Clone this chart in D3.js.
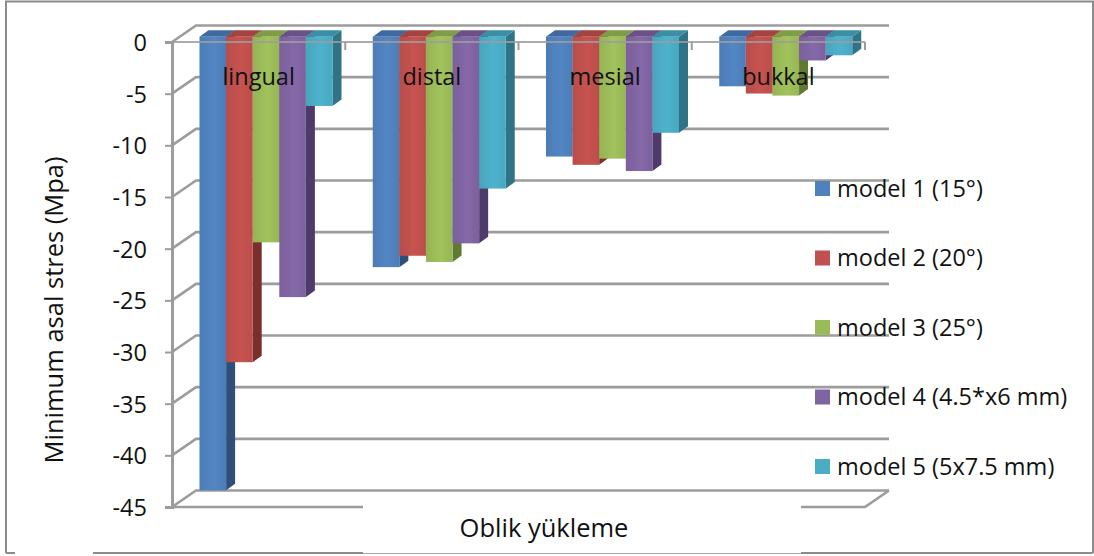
<!DOCTYPE html>
<html>
<head>
<meta charset="utf-8">
<script src="https://d3js.org/d3.v7.min.js"></script>
<style>
  html, body { margin: 0; padding: 0; background: #fff; }
  svg { display: block; }
  text { font-family: "Open Sans", "Noto Sans", sans-serif; fill: #111; }
</style>
</head>
<body>
<svg id="chart" width="1094" height="556"></svg>
<script>
// Minimum principal stress under oblique loading, by region and implant model
const categories = ["lingual", "distal", "mesial", "bukkal"];
const seriesNames = ["model 1 (15°)", "model 2 (20°)", "model 3 (25°)", "model 4 (4.5*x6 mm)", "model 5 (5x7.5 mm)"];
const model1 = [-43.9, -22.3, -11.6, -4.8];
const model2 = [-31.5, -21.2, -12.4, -5.5];
const model3 = [-19.9, -21.8, -11.8, -5.7];
const model4 = [-25.2, -20.0, -13.0, -2.3];
const model5 = [-6.7, -14.7, -9.3, -1.8];
const seriesValues = [model1, model2, model3, model4, model5];
const yTicks = [0, -5, -10, -15, -20, -25, -30, -35, -40, -45];

const frontColors = ["#4f81bd", "#c0504d", "#9bbb59", "#8064a2", "#4bacc6"];
const sideColors  = ["#2f4f7a", "#7a2f2d", "#607a33", "#4f3b6b", "#2f7486"];
const topColors   = ["#3f6aa0", "#a34440", "#7f9c48", "#69518a", "#3a8ea6"];
const gridColor = "#9c9c9c";

const svg = d3.select("#chart");

// Outer frame, with the breaks along its lower edge
const frame = svg.append("g").attr("fill", "none").attr("stroke", "#8c8c8c").attr("stroke-width", 2);
frame.append("path").attr("d", "M6,553V1.5H1093V553");
[[6, 15], [93, 363], [801, 1093]].forEach(([a, b]) =>
  frame.append("line").attr("x1", a).attr("x2", b).attr("y1", 553).attr("y2", 553));
frame.append("line").attr("x1", 363).attr("x2", 801).attr("y1", 553.5).attr("y2", 553.5)
  .attr("stroke-width", 1).attr("stroke", "#a8a8a8");

// Scales on the front plane of the 3-D box
const y = d3.scaleLinear().domain([0, -45]).range([42, 507]);
const x = d3.scaleBand().domain(categories).range([172, 865]);
const inner = d3.scaleBand().domain(d3.range(seriesNames.length)).range([0, 133]);

const wallDx = 24, wallDy = -16.5;          // depth of the box
const barDx = 7.5, barDy = -5.3;            // where the bars stand inside the box
const depthX = 9, depthY = -6.5;            // depth of each bar
const groupInset = 20;
const wallRight = 865 + wallDx;

// Floor, wall gridlines and their diagonal returns
const grid = svg.append("g").attr("fill", "none").attr("stroke", gridColor).attr("stroke-width", 2.6);
yTicks.forEach(t => {
  grid.append("path").attr("d",
    `M172,${y(t)}L${172 + wallDx},${y(t) + wallDy}H${wallRight}`);
});
grid.append("line").attr("x1", 172).attr("x2", 363).attr("y1", y(-45)).attr("y2", y(-45));
grid.append("path").attr("d", `M801,${y(-45)}H${865}L${wallRight},${y(-45) + wallDy}`);

// Horizontal shading across each bar face
const defs = svg.append("defs");
frontColors.forEach((c, i) => {
  const g = defs.append("linearGradient").attr("id", "face" + i);
  g.append("stop").attr("offset", "0%").attr("stop-color", d3.color(c).darker(0.12));
  g.append("stop").attr("offset", "55%").attr("stop-color", d3.color(c).brighter(0.1));
  g.append("stop").attr("offset", "100%").attr("stop-color", d3.color(c).darker(0.08));
});

// Bars: one box per value, painted left to right so each hides its neighbour's side
const bars = svg.append("g");
categories.forEach((cat, ci) => {
  seriesValues.forEach((vals, si) => {
    const x0 = x(cat) + barDx + groupInset + inner(si);
    const w = inner.bandwidth();
    const top = y(0) + barDy;
    const h = y(vals[ci]) - y(0);
    const b = bars.append("g");
    b.append("path").attr("fill", sideColors[si])
      .attr("d", `M${x0 + w},${top}l${depthX},${depthY}v${h}l${-depthX},${-depthY}Z`);
    b.append("path").attr("fill", topColors[si])
      .attr("d", `M${x0},${top}l${depthX},${depthY}h${w}l${-depthX},${-depthY}Z`);
    b.append("rect").attr("x", x0).attr("y", top).attr("width", w).attr("height", h)
      .attr("fill", `url(#face${si})`);
  });
});

// Front edge of the zero plane, showing across the bars
svg.append("line").attr("x1", 172).attr("x2", 865).attr("y1", y(0)).attr("y2", y(0))
  .attr("stroke", gridColor).attr("stroke-width", 2).attr("stroke-opacity", 0.85);

// Category ticks hang from the zero plane at band boundaries
svg.append("g").selectAll("line").data(categories).join("line")
  .attr("x1", d => x(d) + x.bandwidth()).attr("x2", d => x(d) + x.bandwidth())
  .attr("y1", y(0)).attr("y2", y(0) + 8)
  .attr("stroke", gridColor).attr("stroke-width", 2);

// Value axis, written with a plain hyphen
const yAxis = svg.append("g").attr("transform", "translate(172,0)")
  .call(d3.axisLeft(y).tickValues(yTicks).tickSize(7).tickPadding(18).tickFormat(d => String(d)));
yAxis.select(".domain").attr("stroke", gridColor).attr("stroke-width", 3);
yAxis.selectAll(".tick line").attr("stroke", gridColor).attr("stroke-width", 2);
yAxis.selectAll("text").attr("font-size", 23.5).attr("dy", "0.36em")
  .style("font-family", "'Open Sans', sans-serif").attr("fill", "#111");

// Category labels sit just under the zero plane, over the bars
svg.append("g").selectAll("text").data(categories).join("text")
  .attr("x", d => x(d) + x.bandwidth() / 2).attr("y", 85)
  .attr("text-anchor", "middle").attr("font-size", 23.5).text(d => d);

// Axis titles
svg.append("text").attr("transform", "translate(63,310) rotate(-90)")
  .attr("text-anchor", "middle").attr("font-size", 25.5).text("Minimum asal stres (Mpa)");
svg.append("text").attr("x", 544).attr("y", 537)
  .attr("text-anchor", "middle").attr("font-size", 25.5).text("Oblik yükleme");

// Legend
const legend = svg.append("g").selectAll("g").data(seriesNames).join("g")
  .attr("transform", (d, i) => `translate(815,${181 + i * 69.5})`);
legend.append("rect").attr("width", 15).attr("height", 15).attr("fill", (d, i) => frontColors[i]);
legend.append("text").attr("x", 22).attr("y", 15.5).attr("font-size", 23.5).text(d => d);
</script>
</body>
</html>
